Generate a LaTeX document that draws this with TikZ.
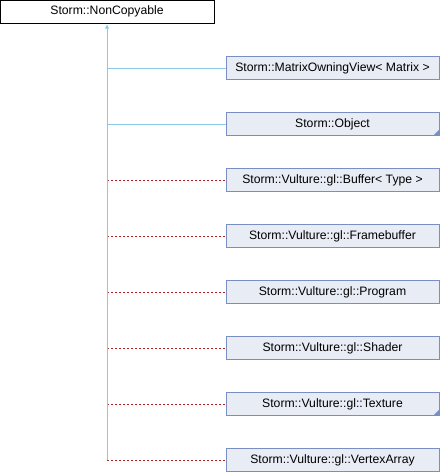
\documentclass[tikz,border=0pt]{standalone}
\usepackage{fontspec}
\setmainfont{Liberation Sans}
\usetikzlibrary{positioning,arrows.meta}
\definecolor{boxfill}{RGB}{232,236,245}
\definecolor{boxline}{RGB}{122,142,196}
\definecolor{publine}{RGB}{140,200,232}
\definecolor{privline}{RGB}{180,35,35}

\begin{document}
\begin{tikzpicture}[node distance=32.6pt, x=1pt, y=-1pt]
        \tikzstyle{base} = [rectangle, minimum width=214pt, minimum height=23pt, inner sep=0pt, text centered, text height=8.5pt, text depth=2.5pt, draw=black, fill=white, font=\fontsize{12.2}{14}\selectfont]
        \tikzstyle{derived} = [base, minimum width=213pt, draw=boxline, fill=boxfill]
        \tikzstyle{pub} = [publine, line width=1pt]
        \tikzstyle{priv} = [privline, line width=1pt, dash pattern=on 2pt off 2pt]
        \tikzstyle{more} = [fill=boxline]
        \useasboundingbox (0,0) rectangle (440,472);
        \node (noncopy) [base] at (107,11.5) {Storm::NonCopyable};
        \node (matview) [derived] at (332.5,68) {Storm::MatrixOwningView< Matrix >};
        \node (object) [derived, below=of matview] {Storm::Object};
        \node (buffer) [derived, below=of object] {Storm::Vulture::gl::Buffer< Type >};
        \node (framebuf) [derived, below=of buffer] {Storm::Vulture::gl::Framebuffer};
        \node (program) [derived, below=of framebuf] {Storm::Vulture::gl::Program};
        \node (shader) [derived, below=of program] {Storm::Vulture::gl::Shader};
        \node (texture) [derived, below=of shader] {Storm::Vulture::gl::Texture};
        \node (varray) [derived, below=of texture] {Storm::Vulture::gl::VertexArray};

        % marks for classes with more children
        \fill [more] (object.south east) -- ++(-6,0) -- ++(6,-6) -- cycle;
        \fill [more] (texture.south east) -- ++(-6,0) -- ++(6,-6) -- cycle;

        \foreach \n in {buffer,framebuf,program,shader,texture,varray}
            \draw [priv] (noncopy.south |- \n.west) -- (\n.west);
        \foreach \n in {matview,object}
            \draw [pub] (noncopy.south |- \n.west) -- (\n.west);
        \coordinate (trunk) at (noncopy.south |- varray.west);
        \draw [pub, -{Triangle[length=4pt,width=4pt]}, shorten >=1.5pt] (trunk) -- (noncopy.south);
\end{tikzpicture}
\end{document}
